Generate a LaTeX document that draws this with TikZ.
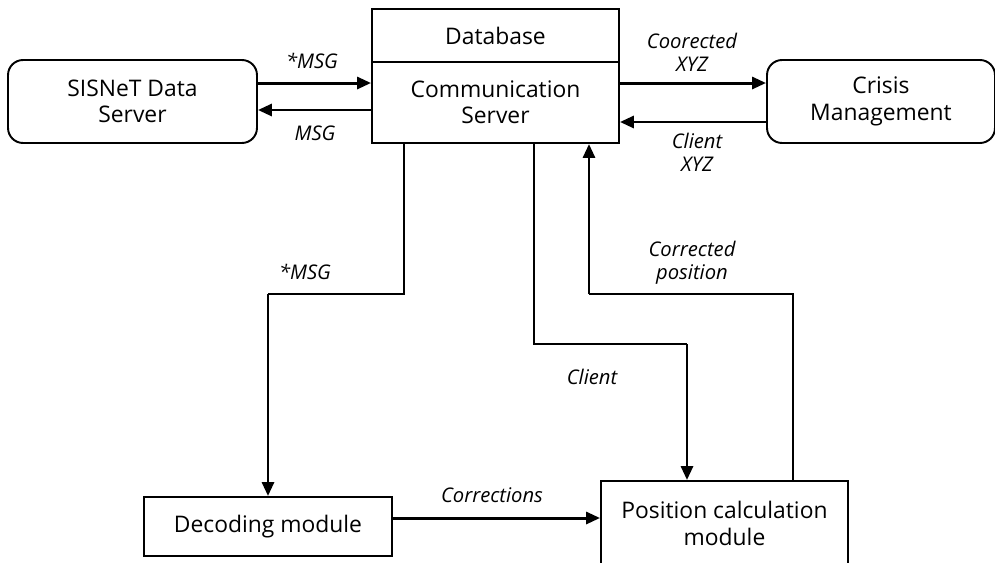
\documentclass[tikz,border=0pt]{standalone}
\usepackage{fontspec}
\setmainfont{Open Sans}
\usetikzlibrary{arrows.meta,positioning}

\begin{document}
\begin{tikzpicture}[
  x=0.02cm, y=-0.02cm,
  server/.style={rectangle, rounded corners=0.3cm, draw, line width=1.1pt, minimum height=1.66cm, align=center, inner sep=0pt, font=\fontsize{13}{15}\selectfont},
  module/.style={rectangle, draw, line width=1.1pt, align=center, inner sep=0pt, font=\fontsize{13}{15}\selectfont},
  msg/.style={align=center, inner sep=0pt, font=\fontsize{11.5}{13}\selectfont\itshape},
  flow/.style={-{Triangle[length=0.28cm, width=0.24cm]}, line width=1.7pt},
  wire/.style={line width=1.1pt}
]
  \useasboundingbox (0,0) rectangle (995,562);
  \clip (0,0) rectangle (995,562);

  % Top row: data server, communication server, crisis management
  \node[server, minimum width=4.98cm] (sis) at (132.5,101.5) {SISNeT Data\\Server};
  \node[module, minimum width=4.94cm, minimum height=1.06cm] (db) at (495.5,35.5) {Database};
  \node[module, minimum width=4.94cm, minimum height=1.62cm] (comm) at (495.5,102.5) {Communication\\Server};
  \node[server, minimum width=4.56cm] (cm) at (881,101.5) {Crisis\\Management};

  % Bottom row: modules
  \node[module, minimum width=4.96cm, minimum height=1.18cm] (dec) at (268,526.5) {Decoding module};
  \node[module, minimum width=4.94cm, minimum height=1.7cm] (pos) at (724.5,523.5) {Position calculation\\module};

  % Links to the data server
  \draw[flow] ([yshift=0.37cm]sis.east) -- ([yshift=0.37cm]sis.east -| comm.west);
  \draw[flow] ([yshift=-0.17cm]sis.east -| comm.west) -- ([yshift=-0.17cm]sis.east);
  \node[msg] (msgin) at (312,61) {*MSG};
  \node[msg] (msgout) at (315,133) {MSG};

  % Links to crisis management
  \draw[flow] ([yshift=0.37cm]cm.west -| comm.east) -- ([yshift=0.37cm]cm.west);
  \draw[flow] ([yshift=-0.41cm]cm.west) -- ([yshift=-0.41cm]cm.west -| comm.east);
  \node[msg] (xyzout) at (692,52) {Coorected\\XYZ};
  \node[msg] (xyzin) at (697,152) {Client\\XYZ};

  % Server down to the decoding module
  \coordinate (k1) at (404,294);
  \draw[wire] (comm.south -| k1) -- (k1) -- (k1 -| dec.north);
  \draw[flow] (k1 -| dec.north) -- (dec.north);
  \node[msg] (msgdec) at (305,272) {*MSG};

  % Server down to the position module
  \coordinate (k2) at (534,344);
  \coordinate (k3) at (687,344);
  \draw[wire] (comm.south -| k2) -- (k2) -- (k3);
  \draw[flow] (k3) -- (k3 |- pos.north);
  \node[msg] (client) at (592,377) {Client};

  % Position module back up to the server
  \coordinate (k4) at (793,294);
  \coordinate (k5) at (589,294);
  \draw[wire] (pos.north -| k4) -- (k4) -- (k5);
  \draw[flow] (k5) -- (k5 |- comm.south);
  \node[msg] (corrpos) at (692,263) {Corrected\\position};

  % Decoding module to position module
  \draw[flow] ([yshift=0.17cm]dec.east) -- ([yshift=0.17cm]dec.east -| pos.west);
  \node[msg] (corr) at (492,495) {Corrections};
\end{tikzpicture}
\end{document}
